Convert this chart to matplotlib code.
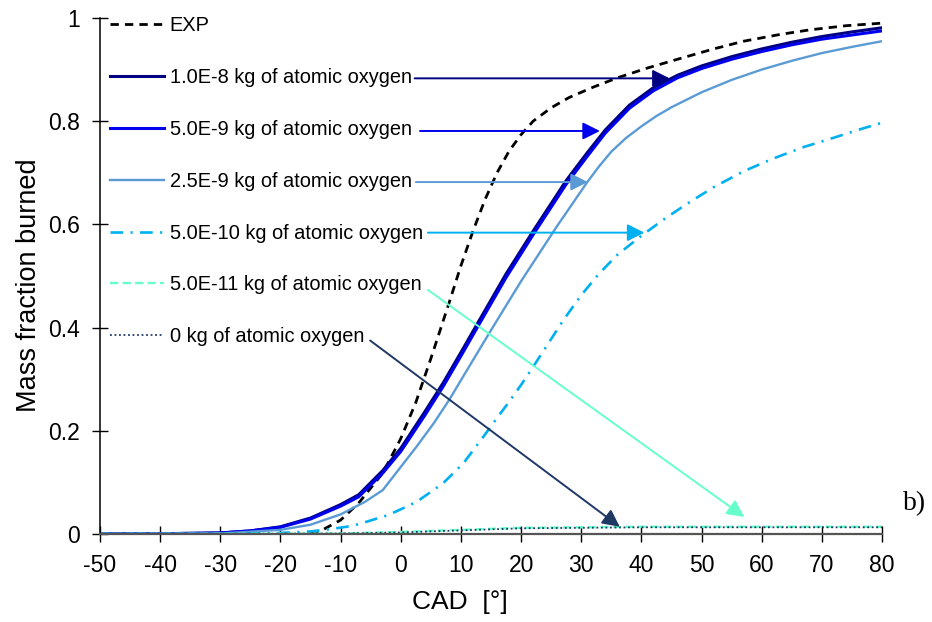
import numpy as np
import matplotlib
matplotlib.use("Agg")
from matplotlib import pyplot as plt

# values
exp_x = [-15, -13, -10, -7, -3, 0, 2.5, 5, 8, 10, 12, 14, 16, 18, 20, 22, 25, 28, 32, 36,
         41, 46, 52, 57, 63, 68, 74, 80]
exp_y = [0, 0.008, 0.027, 0.06, 0.118, 0.185, 0.255, 0.34, 0.447, 0.52, 0.587, 0.648,
         0.70, 0.742, 0.774, 0.80, 0.826, 0.846, 0.866, 0.884, 0.903, 0.92, 0.94, 0.955,
         0.968, 0.977, 0.985, 0.99]

blue_x = [-50, -40, -30, -25, -20, -15, -10, -7, -3, 0, 4, 7, 10, 13, 17.5, 22, 27.5,
          31, 34, 38, 42, 46, 50, 55, 60, 65, 70, 75, 80]
o_1e8 = [0, 0.0005, 0.002, 0.006, 0.014, 0.031, 0.057, 0.076, 0.123, 0.166, 0.237, 0.292,
         0.352, 0.413, 0.504, 0.587, 0.685, 0.739, 0.783, 0.831, 0.865, 0.889, 0.907,
         0.925, 0.94, 0.953, 0.964, 0.973, 0.981]
o_5e9 = [0, 0.0005, 0.002, 0.006, 0.013, 0.029, 0.054, 0.072, 0.118, 0.16, 0.23, 0.285,
         0.345, 0.406, 0.497, 0.58, 0.678, 0.732, 0.777, 0.825, 0.859, 0.884, 0.902,
         0.92, 0.935, 0.948, 0.959, 0.967, 0.975]

lb_x = [-50, -30, -20, -15, -10, -6, -3, 0, 2.6, 5.5, 8, 10, 15, 20, 26, 31, 33, 35, 37.5,
        40, 42.5, 45, 50, 55, 60, 65, 70, 75, 80]
o_25e9 = [0, 0.001, 0.008, 0.018, 0.038, 0.062, 0.085, 0.13, 0.169, 0.215, 0.259, 0.298,
          0.395, 0.49, 0.597, 0.682, 0.713, 0.741, 0.768, 0.79, 0.81, 0.827, 0.856, 0.88,
          0.90, 0.917, 0.932, 0.944, 0.955]

dd_x = [-50, -30, -20, -15, -12, -9, -7, -2, 2.6, 7, 10.4, 13.7, 16, 18, 20, 22, 24, 27,
        30, 33, 36, 40, 44, 48, 52, 57, 62, 67, 72, 76, 80]
o_5e10 = [0, 0, 0.002, 0.005, 0.009, 0.014, 0.019, 0.037, 0.062, 0.098, 0.137, 0.188,
          0.225, 0.256, 0.289, 0.324, 0.36, 0.414, 0.463, 0.505, 0.541, 0.578, 0.612,
          0.643, 0.672, 0.703, 0.728, 0.75, 0.768, 0.783, 0.797]

low_x = [-50, -20, -10, 0, 5, 10, 15, 20, 30, 40, 60, 80]
o_5e11 = [0, 0.0005, 0.001, 0.004, 0.006, 0.008, 0.010, 0.012, 0.013, 0.014, 0.014, 0.014]
o_0 = [0, 0.0005, 0.001, 0.003, 0.005, 0.007, 0.009, 0.011, 0.012, 0.013, 0.013, 0.013]

labels = ["EXP", "1.0E-8 kg of atomic oxygen", "5.0E-9 kg of atomic oxygen",
          "2.5E-9 kg of atomic oxygen", "5.0E-10 kg of atomic oxygen",
          "5.0E-11 kg of atomic oxygen", "0 kg of atomic oxygen"]
colors = ["black", "#000080", "#0000EE", "#5B9BD5", "#00B0F0", "#66FFCC", "#1F3864"]

# arrows from the label to the curve (start, end) in data units
arrow_start = [(2.3, 0.883), (3.2, 0.781), (2.5, 0.682), (4.5, 0.584), (4.5, 0.473), (-5.1, 0.375)]
arrow_end = [(44.7, 0.883), (33.1, 0.781), (31.1, 0.682), (40.5, 0.584), (57.1, 0.033), (36.4, 0.014)]

plt.rcParams['font.family'] = ['Liberation Sans', 'DejaVu Sans']
plt.rcParams['axes.unicode_minus'] = False

fig = plt.figure(figsize=(9.32, 6.22), dpi=100)
ax = fig.add_axes([0.1073, 0.1415, 0.8391, 0.8296])

l_exp, = ax.plot(exp_x, exp_y, color=colors[0], lw=2.0, dashes=(3, 2.2), label=labels[0])
l1, = ax.plot(blue_x, o_1e8, color=colors[1], lw=2.2, label=labels[1])
l2, = ax.plot(blue_x, o_5e9, color=colors[2], lw=2.2, label=labels[2])
l3, = ax.plot(lb_x, o_25e9, color=colors[3], lw=1.7, label=labels[3])
l4, = ax.plot(dd_x, o_5e10, color=colors[4], lw=1.9, dashes=(4.8, 2.8, 0.8, 2.8), label=labels[4])
l5, = ax.plot(low_x, o_5e11, color=colors[5], lw=1.7, dashes=(3.5, 1.8), label=labels[5])
l6, = ax.plot(low_x, o_0, color=colors[6], lw=1.3, dashes=(1, 1.5), label=labels[6])

for (sx, sy), (ex, ey), c in zip(arrow_start, arrow_end, colors[1:]):
    ax.annotate("", xy=(ex, ey), xytext=(sx, sy),
                arrowprops=dict(arrowstyle='-|>', color=c, lw=1.4, mutation_scale=26,
                                shrinkA=0, shrinkB=0))

ax.legend(handles=[l_exp, l1, l2, l3, l4, l5, l6], loc='upper left',
          bbox_to_anchor=(0.0128, 1.003), frameon=False, fontsize=14.4,
          handlelength=2.7, handletextpad=0.28, labelspacing=1.64,
          borderpad=0, borderaxespad=0)

ax.set_xlim(-50, 80)
ax.set_ylim(0, 1)
ax.set_xticks(np.arange(-50, 81, 10))
ax.set_yticks([0, 0.2, 0.4, 0.6, 0.8, 1])
ax.set_yticklabels(["0", "0.2", "0.4", "0.6", "0.8", "1"])
ax.tick_params(direction='inout', length=11, width=1, labelsize=16.5, pad=9)
ax.spines['top'].set_visible(False)
ax.spines['right'].set_visible(False)
ax.spines['left'].set_linewidth(1.1)
ax.spines['bottom'].set_color('#555555')
ax.spines['bottom'].set_linewidth(1.6)

ax.set_xlabel("CAD  [°]", fontsize=19)
ax.xaxis.set_label_coords(0.46, -0.108)
ax.set_ylabel("Mass fraction burned", fontsize=19.5, labelpad=4)
ax.yaxis.label.set_y(0.483)

fig.text(0.969, 0.19, "b)", family=['Liberation Serif'], fontsize=20, ha='left', va='center')

fig.savefig("out.png", dpi=100)
